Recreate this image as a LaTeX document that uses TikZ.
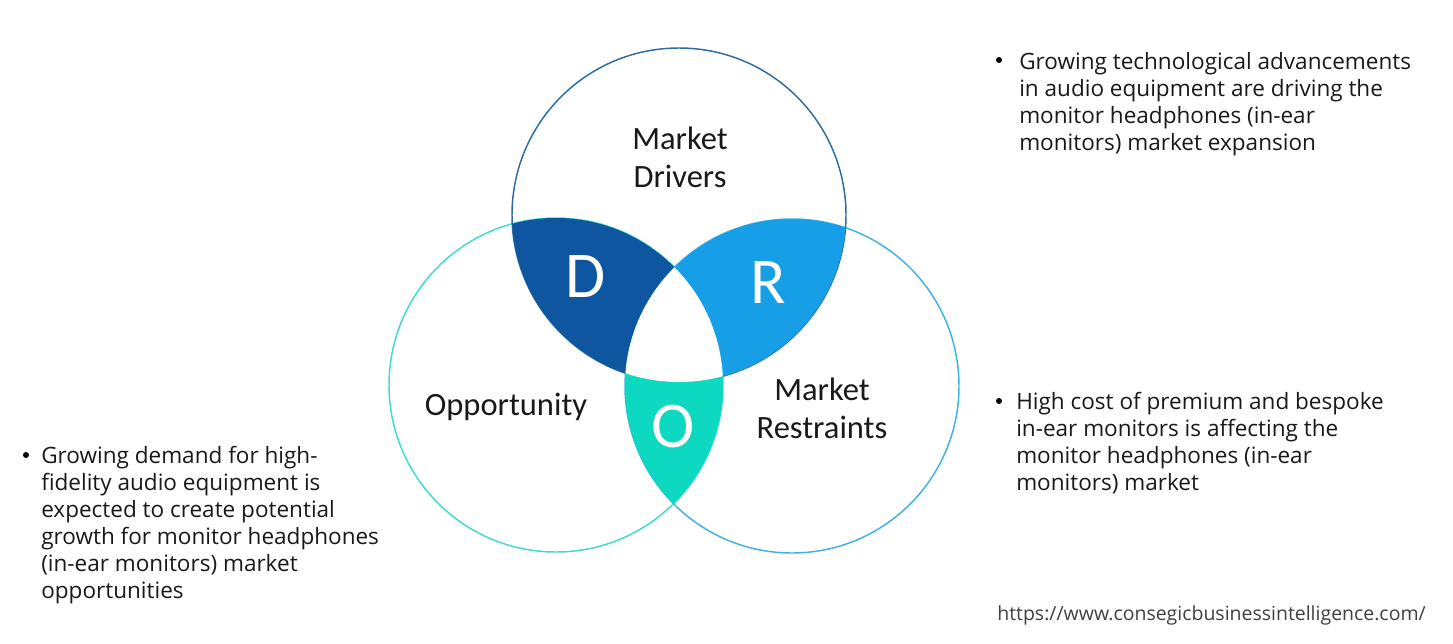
\documentclass[tikz,border=0pt]{standalone}
\usepackage{fontspec}
\setmainfont{Open Sans}
\newfontfamily\labelfont{Carlito}
\usetikzlibrary{positioning}
\definecolor{driverblue}{HTML}{0E569F}
\definecolor{restraintblue}{HTML}{169FE6}
\definecolor{opportunityteal}{HTML}{0DD9C1}
\definecolor{driverline}{HTML}{2B6CA3}
\definecolor{restraintline}{HTML}{3DB3E3}
\definecolor{opportunityline}{HTML}{3FDCCB}
\tikzset{
x=0.75pt, y=-0.75pt, % one unit is one pixel of the picture
ring/.style={line width=1.1pt}, % outline of each circle
circlelabel/.style={font=\labelfont\fontsize{24.4}{28.5}\selectfont, align=center, text=black!90},
letter/.style={font=\labelfont\fontsize{49}{49}\selectfont, text=white},
bullettext/.style={font=\fontsize{16.9}{20.25}\selectfont, align=left, anchor=north west, inner sep=0pt, text=black!90},
bulletdot/.style={circle, fill=black, inner sep=0pt, minimum size=4.5pt},
}

\begin{document}
\begin{tikzpicture}
\useasboundingbox (0,0) rectangle (1453,643);
\coordinate (driverc) at (679,215);
\coordinate (oppc) at (556,385);
\coordinate (restc) at (792,386);
\draw[ring, opportunityline] (oppc) circle[radius=167];
\draw[ring, restraintline] (restc) circle[radius=167];
\draw[ring, driverline] (driverc) circle[radius=167];
% the three overlaps, then the white middle
\begin{scope}
\clip (driverc) circle[radius=167];
\clip (oppc) circle[radius=167];
\fill[driverblue] (oppc) circle[radius=167];
\end{scope}
\begin{scope}
\clip (driverc) circle[radius=167];
\clip (restc) circle[radius=167];
\fill[restraintblue] (restc) circle[radius=167];
\end{scope}
\begin{scope}
\clip (oppc) circle[radius=167];
\clip (restc) circle[radius=167];
\fill[opportunityteal] (restc) circle[radius=167];
\end{scope}
\begin{scope}
\clip (driverc) circle[radius=167];
\clip (oppc) circle[radius=167];
\fill[white] (restc) circle[radius=167];
\end{scope}
\node[circlelabel] (drivers) at (680,157.5) {Market\\Drivers};
\node[circlelabel] (opportunity) at (506,407) {Opportunity};
\node[circlelabel] (restraints) at (822,408.5) {Market\\Restraints};
\node[letter] (dletter) at (586,277) {D};
\node[letter] (rletter) at (768,283) {R};
\node[letter] (oletter) at (673,427) {O};
\node[bullettext] (drivertext) at (1019,52) {Growing technological advancements\\in audio equipment are driving the\\monitor headphones (in-ear\\monitors) market expansion};
\node[bullettext] (resttext) at (1016,392) {High cost of premium and bespoke\\in-ear monitors is affecting the\\monitor headphones (in-ear\\monitors) market};
\node[bullettext] (opptext) at (41,446) {Growing demand for high-\\fidelity audio equipment is\\expected to create potential\\growth for monitor headphones\\(in-ear monitors) market\\opportunities};
\node[bulletdot] (driverdot) at (999,60) {};
\node[bulletdot] (restdot) at (999,401) {};
\node[bulletdot] (oppdot) at (26,455) {};
\node[font=\fontsize{14.6}{17}\selectfont, text=black!75, anchor=east, inner sep=0pt] (url) at (1426,615) {https://www.consegicbusinessintelligence.com/};
\end{tikzpicture}
\end{document}
